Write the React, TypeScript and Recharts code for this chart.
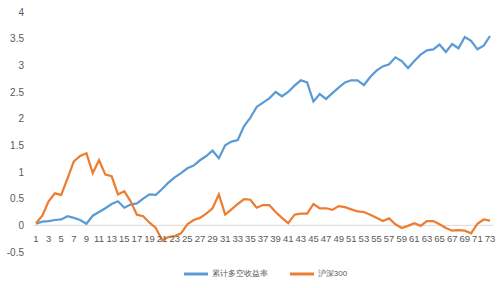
import { LineChart, Line, XAxis, YAxis, ReferenceLine, Legend } from 'recharts';

// 累计多空收益率 vs 沪深300
const periods = Array.from({ length: 73 }, (_, i) => String(i + 1));

const longShort = [
  0.03, 0.07, 0.08, 0.1, 0.11, 0.17, 0.14, 0.1, 0.03, 0.18,
  0.25, 0.32, 0.4, 0.45, 0.33, 0.39, 0.41, 0.5, 0.58, 0.57,
  0.68, 0.8, 0.9, 0.98, 1.07, 1.12, 1.22, 1.3, 1.4, 1.26,
  1.5, 1.57, 1.6, 1.86, 2.02, 2.22, 2.3, 2.38, 2.5, 2.42,
  2.5, 2.62, 2.72, 2.68, 2.32, 2.46, 2.37, 2.48, 2.58, 2.68,
  2.72, 2.72, 2.63, 2.78, 2.9, 2.98, 3.02, 3.15, 3.08, 2.95,
  3.08, 3.2, 3.28, 3.3, 3.39, 3.25, 3.4, 3.32, 3.53, 3.46,
  3.3, 3.37, 3.55,
];

const hs300 = [
  0.04, 0.18, 0.45, 0.6, 0.57, 0.88, 1.2, 1.3, 1.35, 0.98,
  1.22, 0.95, 0.92, 0.58, 0.64, 0.45, 0.2, 0.17, 0.05, -0.05,
  -0.28, -0.22, -0.2, -0.15, 0.02, 0.1, 0.14, 0.22, 0.32, 0.58,
  0.2, 0.3, 0.4, 0.49, 0.48, 0.33, 0.38, 0.38, 0.25, 0.14,
  0.04, 0.2, 0.22, 0.22, 0.4, 0.32, 0.32, 0.29, 0.36, 0.34,
  0.3, 0.26, 0.25, 0.2, 0.14, 0.08, 0.13, 0.02, -0.05, -0.01,
  0.04, -0.01, 0.08, 0.08, 0.02, -0.05, -0.1, -0.09, -0.1, -0.15,
  0.03, 0.11, 0.09,
];

const yTicks = [-0.5, 0, 0.5, 1, 1.5, 2, 2.5, 3, 3.5, 4];

const data = periods.map((p, i) => ({ p, a: longShort[i], b: hs300[i] }));

const FONT = '"Liberation Sans", Arial, sans-serif';

// Excel 风格：类别轴标签贴在 0 线下方
function XTick(props: any) {
  const { x, y, payload } = props;
  return (
    <text x={x} y={y - 12} textAnchor="middle" fontSize={9.5} fill="#595959" fontFamily={FONT}>
      {payload.value}
    </text>
  );
}

export default function App() {
  return (
    <div style={{ position: 'fixed', left: 0, top: 0, width: 504, height: 288, background: '#fff' }}>
      <LineChart width={504} height={288} data={data} margin={{ top: 12, right: 11, bottom: 8, left: 0 }}>
        <XAxis
          dataKey="p"
          interval={1}
          height={10}
          tickLine={false}
          axisLine={false}
          tickSize={0}
          padding={{ left: 3, right: 3 }}
          tick={<XTick />}
        />
        <YAxis
          width={33}
          domain={[-0.5, 4]}
          ticks={yTicks}
          axisLine={false}
          tickLine={false}
          tickSize={0}
          tickMargin={9}
          tick={{ fill: '#595959', fontSize: 10, fontFamily: FONT }}
        />
        <ReferenceLine y={0} stroke="#d9d9d9" strokeWidth={1} />
        <Legend
          verticalAlign="bottom"
          height={18}
          iconType="plainline"
          iconSize={24}
          itemSorter={null}
          wrapperStyle={{ fontSize: 8, fontFamily: FONT, color: '#595959', paddingLeft: 30 }}
          formatter={(v: string) => <span style={{ color: '#595959', marginRight: 12 }}>{v}</span>}
        />
        <Line
          dataKey="a"
          name="累计多空收益率"
          stroke="#5b9bd5"
          strokeWidth={2.25}
          dot={false}
          isAnimationActive={false}
        />
        <Line
          dataKey="b"
          name="沪深300"
          stroke="#ed7d31"
          strokeWidth={2.25}
          dot={false}
          isAnimationActive={false}
        />
      </LineChart>
    </div>
  );
}
